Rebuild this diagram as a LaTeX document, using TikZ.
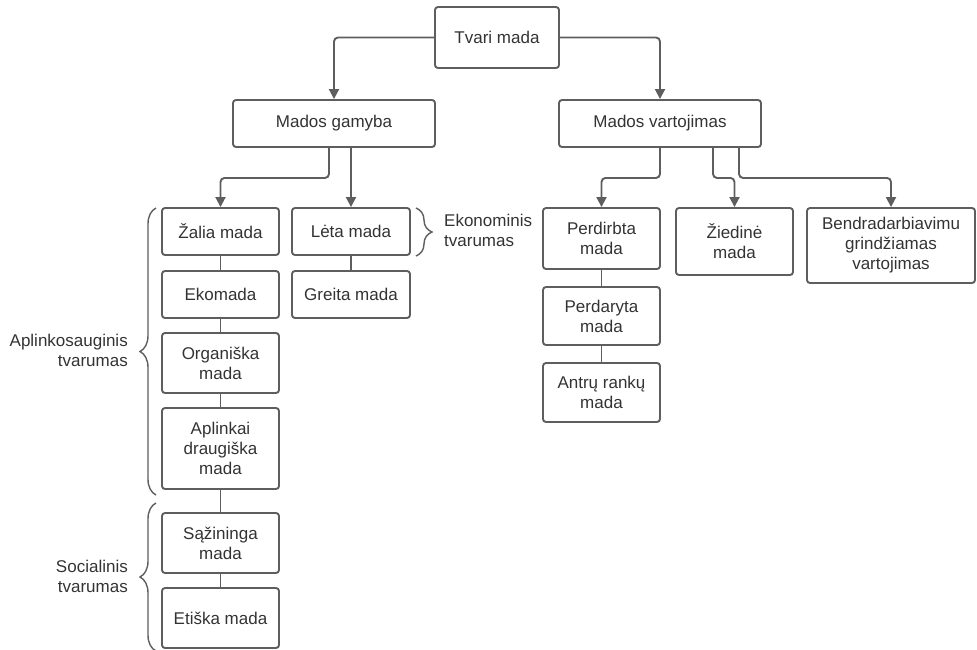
\documentclass[tikz,border=0pt]{standalone}
\usepackage{fontspec}
\setmainfont{Liberation Sans}
\usetikzlibrary{arrows.meta,decorations.pathreplacing}
\definecolor{linea}{HTML}{5E5E5E}
\definecolor{texto}{HTML}{333333}
\tikzset{
  caja/.style={draw=linea, line width=1.9pt, rounded corners=3pt, align=center, text=texto, inner sep=0pt},
  flecha/.style={draw=linea, line width=1.9pt, rounded corners=4pt, -{Triangle[width=10pt,length=10pt]}},
  enlace/.style={draw=linea, line width=1.9pt},
  llave/.style={draw=linea, line width=1.4pt, decorate, decoration={brace, amplitude=16pt}},
  etiqueta/.style={text=texto, inner sep=0pt}
}
\begin{document}
\begin{tikzpicture}[x=1pt, y=-1pt, font=\fontsize{17}{20}\selectfont]
    \useasboundingbox (0,0) rectangle (977,649);

    % Raiz
    \node[caja, minimum width=124, minimum height=61] (tvari) at (497,37.5) {Tvari mada};

    % Segundo nivel
    \node[caja, minimum width=202, minimum height=47] (gamyba) at (334,123.5) {Mados gamyba};
    \node[caja, minimum width=202, minimum height=47] (vartojimas) at (660,123.5) {Mados vartojimas};
    \draw[flecha] (tvari.west) -| (gamyba.north);
    \draw[flecha] (tvari.east) -| (vartojimas.north);

    % Gamyba: columna izquierda
    \node[caja, minimum width=117, minimum height=47] (zalia) at (220.5,231.5) {Žalia mada};
    \node[caja, minimum width=117, minimum height=47] (ekomada) at (220.5,294.5) {Ekomada};
    \node[caja, minimum width=117, minimum height=60] (organiska) at (220.5,363) {Organiška\\mada};
    \node[caja, minimum width=117, minimum height=81] (aplinkai) at (220.5,448.5) {Aplinkai\\draugiška\\mada};
    \node[caja, minimum width=117, minimum height=60] (sazininga) at (220.5,543) {Sąžininga\\mada};
    \node[caja, minimum width=117, minimum height=60] (etiska) at (220.5,618) {Etiška mada};
    \draw[enlace] (zalia) -- (ekomada);
    \draw[enlace] (ekomada) -- (organiska);
    \draw[enlace] (organiska) -- (aplinkai);
    \draw[enlace] (aplinkai) -- (sazininga);
    \draw[enlace] (sazininga) -- (etiska);

    % Gamyba: columna derecha
    \node[caja, minimum width=118, minimum height=47] (leta) at (351,231.5) {Lėta mada};
    \node[caja, minimum width=118, minimum height=47] (greita) at (351,294.5) {Greita mada};
    \draw[enlace] (leta) -- (greita);

    % Flechas de gamyba
    \draw[flecha] ([xshift=-5pt]gamyba.south) -- ++(0,30) -| (zalia.north);
    \draw[flecha] (gamyba.south -| leta.north) -- (leta.north);

    % Vartojimas
    \node[caja, minimum width=117, minimum height=61] (perdirbta) at (601.5,238.5) {Perdirbta\\mada};
    \node[caja, minimum width=117, minimum height=58] (perdaryta) at (601.5,316) {Perdaryta\\mada};
    \node[caja, minimum width=117, minimum height=59] (antru) at (601.5,392.5) {Antrų rankų\\mada};
    \node[caja, minimum width=117, minimum height=67] (ziedine) at (734.5,241.5) {Žiedinė\\mada};
    \node[caja, minimum width=168, minimum height=75] (bendra) at (891,245.5) {Bendradarbiavimu\\grindžiamas\\vartojimas};
    \draw[enlace] (perdirbta) -- (perdaryta);
    \draw[enlace] (perdaryta) -- (antru);
    \draw[flecha] (vartojimas.south) -- ++(0,30) -| (perdirbta.north);
    \draw[flecha] ([xshift=53pt]vartojimas.south) -- ++(0,30) -| (ziedine.north);
    \draw[flecha] ([xshift=79pt]vartojimas.south) -- ++(0,30) -| (bendra.north);

    % Llaves y tipos de tvarumas
    \coordinate (A1) at (156,495);
    \coordinate (A2) at (156,208);
    \draw[llave] (A1) -- (A2);
    \node[etiqueta, anchor=east, align=right] (aplinko) at (128,350) {Aplinkosauginis\\tvarumas};

    \coordinate (S1) at (156,651);
    \coordinate (S2) at (156,503);
    \draw[llave] (S1) -- (S2);
    \node[etiqueta, anchor=east, align=right] (social) at (128,576) {Socialinis\\tvarumas};

    \coordinate (E1) at (416,208);
    \coordinate (E2) at (416,256);
    \draw[llave] (E1) -- (E2);
    \node[etiqueta, anchor=west, align=left] (ekonom) at (444,230) {Ekonominis\\tvarumas};
\end{tikzpicture}
\end{document}
